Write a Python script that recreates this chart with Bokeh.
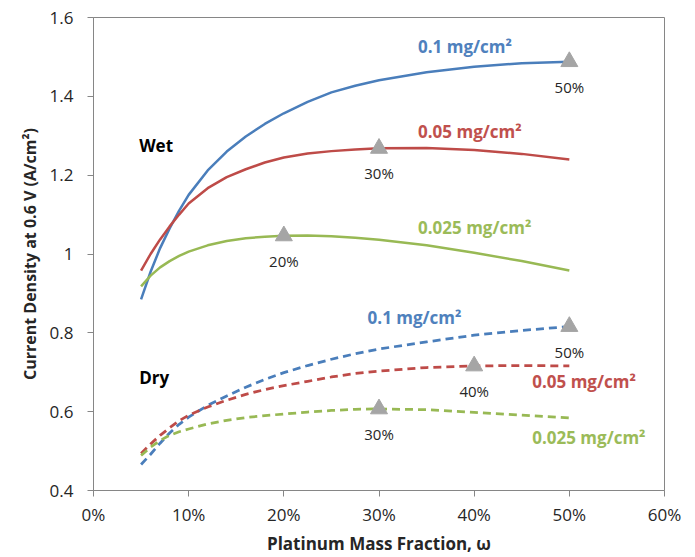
from bokeh.plotting import figure
from bokeh.models import FixedTicker, NumeralTickFormatter, CustomJSTickFormatter, Range1d
from bokeh.core.properties import value
from bokeh.embed import file_html
from bokeh.resources import INLINE

# ---- data ----
pt_fraction = [0.05, 0.06, 0.07, 0.08, 0.09, 0.10, 0.12, 0.14, 0.16, 0.18, 0.20,
               0.225, 0.25, 0.275, 0.30, 0.35, 0.40, 0.45, 0.50]

wet_0100 = [0.885, 0.955, 1.015, 1.065, 1.110, 1.150, 1.212, 1.260, 1.298, 1.330, 1.357,
            1.386, 1.410, 1.427, 1.441, 1.461, 1.475, 1.484, 1.488]
wet_0050 = [0.958, 1.000, 1.037, 1.070, 1.100, 1.128, 1.167, 1.195, 1.215, 1.232, 1.245,
            1.255, 1.261, 1.265, 1.268, 1.269, 1.264, 1.254, 1.240]
wet_0025 = [0.918, 0.945, 0.966, 0.982, 0.995, 1.006, 1.022, 1.033, 1.040, 1.044, 1.046,
            1.047, 1.045, 1.041, 1.036, 1.022, 1.003, 0.982, 0.958]

dry_0100 = [0.466, 0.492, 0.520, 0.546, 0.568, 0.586, 0.616, 0.640, 0.662, 0.682, 0.699,
            0.717, 0.733, 0.747, 0.759, 0.777, 0.794, 0.806, 0.816]
dry_0050 = [0.494, 0.518, 0.540, 0.559, 0.577, 0.591, 0.612, 0.629, 0.644, 0.656, 0.666,
            0.677, 0.688, 0.697, 0.703, 0.712, 0.716, 0.717, 0.716]
dry_0025 = [0.489, 0.510, 0.527, 0.540, 0.549, 0.556, 0.569, 0.578, 0.585, 0.590, 0.594,
            0.599, 0.603, 0.606, 0.607, 0.605, 0.598, 0.591, 0.584]

# optimum markers
opt_x = [0.50, 0.30, 0.20, 0.50, 0.40, 0.30]
opt_y = [1.488, 1.268, 1.046, 0.816, 0.716, 0.607]
opt_labels = ["50%", "30%", "20%", "50%", "40%", "30%"]

loading_labels = ["0.1 mg/cm²", "0.05 mg/cm²", "0.025 mg/cm²"]

x_ticks = [0.0, 0.1, 0.2, 0.3, 0.4, 0.5, 0.6]
y_ticks = [0.4, 0.6, 0.8, 1.0, 1.2, 1.4, 1.6]

# ---- style ----
FONT = "Open Sans"
BLUE, RED, GREEN = "#4a7ebb", "#be4b48", "#98b954"
BLUE_T, RED_T, GREEN_T = "#4f81bd", "#c0504d", "#9bbb59"
GRAY = "#868686"
TXT = "#262626"

p = figure(width=695, height=557, output_backend="svg", toolbar_location=None,
           x_range=Range1d(0, 0.6), y_range=Range1d(0.4, 1.6),
           min_border_left=93, min_border_right=31, min_border_top=17, min_border_bottom=66)

p.grid.visible = False
p.outline_line_color = GRAY
p.outline_line_width = 1
p.background_fill_color = "white"
p.border_fill_color = "white"

for ax in (p.xaxis[0], p.yaxis[0]):
    ax.axis_line_color = GRAY
    ax.major_tick_line_color = GRAY
    ax.major_tick_out = 6
    ax.major_tick_in = 0
    ax.minor_tick_line_color = None
    ax.major_label_text_font = FONT
    ax.major_label_text_font_size = "17px"
    ax.major_label_text_color = TXT
    ax.axis_label_text_font = FONT
    ax.axis_label_text_font_style = "bold"
    ax.axis_label_text_color = TXT

p.xaxis.ticker = FixedTicker(ticks=x_ticks)
p.xaxis.formatter = NumeralTickFormatter(format="0%")
p.xaxis.major_label_standoff = 6
p.xaxis.axis_label = "Platinum Mass Fraction, ω"
p.xaxis.axis_label_text_font_size = "17px"
p.xaxis.axis_label_standoff = 3

p.yaxis.ticker = FixedTicker(ticks=y_ticks)
p.yaxis.formatter = CustomJSTickFormatter(code="return tick.toFixed(1).replace(/\\.0$/, '');")
p.yaxis.major_label_standoff = 14
p.yaxis.axis_label = "Current Density at 0.6 V (A/cm²)"
p.yaxis.axis_label_text_font_size = "16px"
p.yaxis.axis_label_standoff = 6

# curves
p.line(pt_fraction, wet_0100, line_color=BLUE, line_width=2.5)
p.line(pt_fraction, wet_0050, line_color=RED, line_width=2.5)
p.line(pt_fraction, wet_0025, line_color=GREEN, line_width=2.5)
p.line(pt_fraction, dry_0100, line_color=BLUE, line_width=2.75, line_dash="8 5")
p.line(pt_fraction, dry_0050, line_color=RED, line_width=2.75, line_dash="8 5")
p.line(pt_fraction, dry_0025, line_color=GREEN, line_width=2.75, line_dash="8 5")

# optimum markers and labels
p.scatter(opt_x, opt_y, marker="triangle", size=17, color="#a5a5a5")
p.text(opt_x, opt_y, text=opt_labels, text_font=value(FONT), text_font_size="15px",
       text_color=TXT, text_align="center", text_baseline="middle", y_offset=25)

# series labels
p.text([0.341, 0.341, 0.341], [1.527, 1.312, 1.066], text=loading_labels,
       text_font=value(FONT), text_font_size="17px", text_font_style="bold",
       text_color=[BLUE_T, RED_T, GREEN_T], text_align="left", text_baseline="middle")
p.text([0.288, 0.461, 0.461], [0.838, 0.676, 0.535], text=loading_labels,
       text_font=value(FONT), text_font_size="17px", text_font_style="bold",
       text_color=[BLUE_T, RED_T, GREEN_T], text_align="left", text_baseline="middle")

# condition labels
p.text([0.048, 0.048], [1.276, 0.686], text=["Wet", "Dry"], text_font=value(FONT),
       text_font_size="17px", text_font_style="bold", text_color="black",
       text_align="left", text_baseline="middle")

open("out.html", "w").write(file_html(p, INLINE))
